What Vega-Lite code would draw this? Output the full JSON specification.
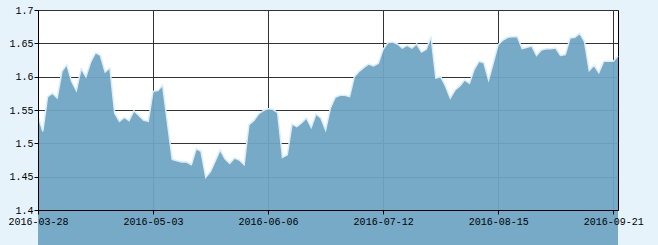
{
  "$schema": "https://vega.github.io/schema/vega-lite/v6.json",
  "width": 580,
  "height": 200,
  "autosize": "none",
  "padding": {"left": 38, "top": 10, "right": 40, "bottom": 35},
  "background": "#e7f3fb",
  "view": {"fill": "white", "stroke": "black", "strokeWidth": 1},
  "data": {"values": [
    {"d": "2016-03-28", "v": 1.541}, {"d": "2016-03-29", "v": 1.518}, {"d": "2016-03-30", "v": 1.570}, {"d": "2016-03-31", "v": 1.575},
    {"d": "2016-04-01", "v": 1.568}, {"d": "2016-04-05", "v": 1.608}, {"d": "2016-04-06", "v": 1.618}, {"d": "2016-04-07", "v": 1.593},
    {"d": "2016-04-08", "v": 1.579}, {"d": "2016-04-11", "v": 1.612}, {"d": "2016-04-12", "v": 1.600}, {"d": "2016-04-13", "v": 1.622},
    {"d": "2016-04-14", "v": 1.636}, {"d": "2016-04-15", "v": 1.632}, {"d": "2016-04-18", "v": 1.607}, {"d": "2016-04-19", "v": 1.613},
    {"d": "2016-04-20", "v": 1.545}, {"d": "2016-04-21", "v": 1.533}, {"d": "2016-04-22", "v": 1.539}, {"d": "2016-04-25", "v": 1.534},
    {"d": "2016-04-26", "v": 1.549}, {"d": "2016-04-27", "v": 1.542}, {"d": "2016-04-28", "v": 1.535}, {"d": "2016-04-29", "v": 1.533},
    {"d": "2016-05-03", "v": 1.578}, {"d": "2016-05-04", "v": 1.579}, {"d": "2016-05-05", "v": 1.587}, {"d": "2016-05-06", "v": 1.531},
    {"d": "2016-05-09", "v": 1.476}, {"d": "2016-05-10", "v": 1.474}, {"d": "2016-05-11", "v": 1.472}, {"d": "2016-05-12", "v": 1.472},
    {"d": "2016-05-13", "v": 1.468}, {"d": "2016-05-16", "v": 1.492}, {"d": "2016-05-17", "v": 1.488}, {"d": "2016-05-18", "v": 1.449},
    {"d": "2016-05-19", "v": 1.458}, {"d": "2016-05-20", "v": 1.474}, {"d": "2016-05-23", "v": 1.490}, {"d": "2016-05-24", "v": 1.477},
    {"d": "2016-05-25", "v": 1.470}, {"d": "2016-05-26", "v": 1.478}, {"d": "2016-05-27", "v": 1.475}, {"d": "2016-05-30", "v": 1.468},
    {"d": "2016-05-31", "v": 1.528}, {"d": "2016-06-01", "v": 1.534}, {"d": "2016-06-02", "v": 1.544}, {"d": "2016-06-03", "v": 1.549},
    {"d": "2016-06-06", "v": 1.552}, {"d": "2016-06-07", "v": 1.551}, {"d": "2016-06-08", "v": 1.546}, {"d": "2016-06-13", "v": 1.479},
    {"d": "2016-06-14", "v": 1.483}, {"d": "2016-06-15", "v": 1.529}, {"d": "2016-06-16", "v": 1.525}, {"d": "2016-06-17", "v": 1.531},
    {"d": "2016-06-20", "v": 1.538}, {"d": "2016-06-21", "v": 1.524}, {"d": "2016-06-22", "v": 1.544}, {"d": "2016-06-23", "v": 1.538},
    {"d": "2016-06-24", "v": 1.520}, {"d": "2016-06-27", "v": 1.553}, {"d": "2016-06-28", "v": 1.569}, {"d": "2016-06-29", "v": 1.572},
    {"d": "2016-06-30", "v": 1.572}, {"d": "2016-07-01", "v": 1.570}, {"d": "2016-07-04", "v": 1.600}, {"d": "2016-07-05", "v": 1.608},
    {"d": "2016-07-06", "v": 1.614}, {"d": "2016-07-07", "v": 1.619}, {"d": "2016-07-08", "v": 1.616}, {"d": "2016-07-11", "v": 1.620},
    {"d": "2016-07-12", "v": 1.641}, {"d": "2016-07-13", "v": 1.651}, {"d": "2016-07-14", "v": 1.652}, {"d": "2016-07-15", "v": 1.649},
    {"d": "2016-07-18", "v": 1.643}, {"d": "2016-07-19", "v": 1.647}, {"d": "2016-07-20", "v": 1.643}, {"d": "2016-07-21", "v": 1.649},
    {"d": "2016-07-22", "v": 1.637}, {"d": "2016-07-25", "v": 1.641}, {"d": "2016-07-26", "v": 1.660}, {"d": "2016-07-27", "v": 1.598},
    {"d": "2016-07-28", "v": 1.600}, {"d": "2016-07-29", "v": 1.586}, {"d": "2016-08-01", "v": 1.568}, {"d": "2016-08-02", "v": 1.580},
    {"d": "2016-08-03", "v": 1.586}, {"d": "2016-08-04", "v": 1.595}, {"d": "2016-08-05", "v": 1.590}, {"d": "2016-08-08", "v": 1.611},
    {"d": "2016-08-09", "v": 1.623}, {"d": "2016-08-10", "v": 1.621}, {"d": "2016-08-11", "v": 1.595}, {"d": "2016-08-12", "v": 1.621},
    {"d": "2016-08-15", "v": 1.648}, {"d": "2016-08-16", "v": 1.655}, {"d": "2016-08-17", "v": 1.659}, {"d": "2016-08-18", "v": 1.660},
    {"d": "2016-08-19", "v": 1.660}, {"d": "2016-08-22", "v": 1.642}, {"d": "2016-08-23", "v": 1.644}, {"d": "2016-08-24", "v": 1.646},
    {"d": "2016-08-25", "v": 1.632}, {"d": "2016-08-26", "v": 1.640}, {"d": "2016-08-29", "v": 1.642}, {"d": "2016-08-30", "v": 1.642},
    {"d": "2016-08-31", "v": 1.643}, {"d": "2016-09-01", "v": 1.632}, {"d": "2016-09-02", "v": 1.633}, {"d": "2016-09-05", "v": 1.658},
    {"d": "2016-09-06", "v": 1.659}, {"d": "2016-09-07", "v": 1.665}, {"d": "2016-09-08", "v": 1.653}, {"d": "2016-09-09", "v": 1.609},
    {"d": "2016-09-12", "v": 1.617}, {"d": "2016-09-13", "v": 1.606}, {"d": "2016-09-14", "v": 1.623}, {"d": "2016-09-20", "v": 1.623},
    {"d": "2016-09-21", "v": 1.623}, {"d": "2016-09-22", "v": 1.631}
  ]},
  "layer": [
    {
      "mark": {"type": "area", "color": "#6fa5c2", "opacity": 0.94},
      "encoding": {
        "x": {"field": "d", "type": "ordinal", "scale": {"type": "point", "padding": 0},
          "axis": {"values": ["2016-03-28", "2016-05-03", "2016-06-06", "2016-07-12", "2016-08-15", "2016-09-21"],
            "grid": true, "gridColor": "#333333", "gridOpacity": 1, "labels": false, "ticks": false, "domain": false, "title": null, "orient": "bottom", "zindex": 0}},
        "y": {"field": "v", "type": "quantitative", "scale": {"domain": [1.4, 1.7], "zero": false, "nice": false},
          "axis": {"values": [1.4, 1.45, 1.5, 1.55, 1.6, 1.65, 1.7],
            "grid": true, "gridColor": "#333333", "gridOpacity": 1, "labels": false, "ticks": false, "domain": false, "title": null, "orient": "left", "zindex": 0}}
      }
    },
    {
      "mark": {"type": "line", "color": "#dcedf8", "strokeWidth": 1.5},
      "encoding": {
        "x": {"field": "d", "type": "ordinal", "scale": {"type": "point", "padding": 0},
          "axis": {"values": ["2016-03-28", "2016-05-03", "2016-06-06", "2016-07-12", "2016-08-15", "2016-09-21"],
            "grid": false, "labels": true, "labelAngle": 0, "labelFont": "Liberation Mono", "labelFontSize": 10, "labelColor": "black",
            "labelPadding": 2, "ticks": true, "tickSize": 4, "tickColor": "black", "domain": true, "domainColor": "black",
            "title": null, "orient": "bottom", "zindex": 1}},
        "y": {"field": "v", "type": "quantitative", "scale": {"domain": [1.4, 1.7], "zero": false, "nice": false},
          "axis": {"values": [1.4, 1.45, 1.5, 1.55, 1.6, 1.65, 1.7], "format": ".3~g",
            "grid": false, "labels": true, "labelFont": "Liberation Mono", "labelFontSize": 10, "labelColor": "black",
            "labelPadding": 1, "ticks": true, "tickSize": 4, "tickColor": "black", "domain": true, "domainColor": "black",
            "title": null, "orient": "left", "zindex": 1}}
      }
    }
  ],
  "resolve": {"axis": {"x": "independent", "y": "independent"}}
}
